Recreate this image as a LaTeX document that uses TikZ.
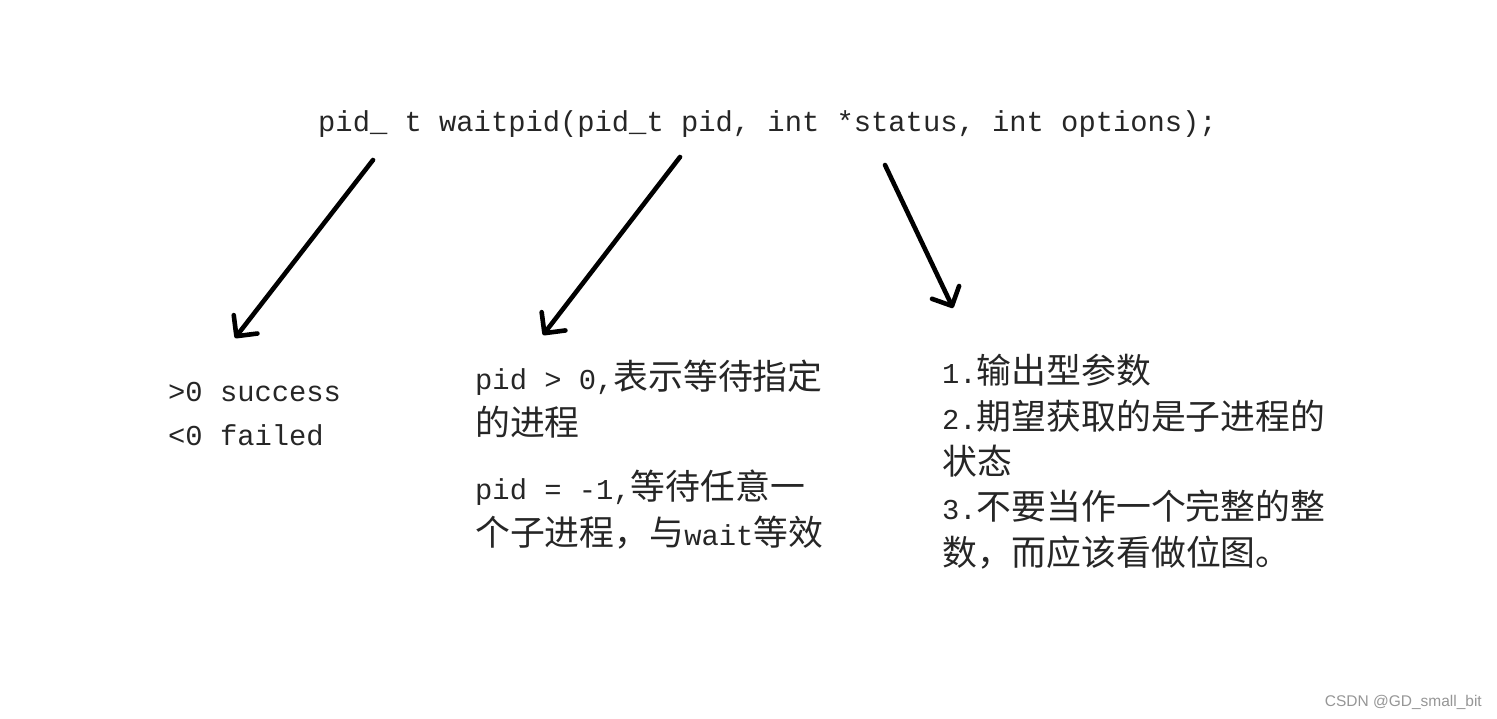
\documentclass[tikz,border=0pt]{standalone}
\usepackage{fontspec}
\usepackage{xcolor}
\usetikzlibrary{arrows.meta}
\setmonofont{Liberation Mono}
\newfontfamily\cjk[Scale=1.21]{Noto Sans CJK SC}
\newfontfamily\markfont{Liberation Sans}
\definecolor{inkblack}{RGB}{0,0,0}
\definecolor{codegrey}{RGB}{38,38,38}
\definecolor{markgrey}{RGB}{150,150,150}
\def\penStroke{4.6pt}

\begin{document}
\begin{tikzpicture}[x=1pt, y=-1pt,
  every node/.style={inner sep=0pt, text=codegrey,
    font=\ttfamily\fontsize{28.8}{45.3}\selectfont},
  note/.style={anchor=base west, align=left},
  pen/.style={draw=inkblack, line width=\penStroke, line cap=round,
    -{Straight Barb[round, length=15pt, width=30pt]}}]

% Canvas
\useasboundingbox[fill=white] (0,0) rectangle (1497,718);

% Prototype line
\node[anchor=base west] (proto) at (318,131)
  {pid\_ t waitpid(pid\_t pid, int *status, int options);};

% --- Return value (base = last line) ---
\node[note, font=\ttfamily\fontsize{28.8}{44}\selectfont] (retNote) at (168,445)
  {>0 success\\<0 failed};

% --- pid argument ---
\node[note] (pidPos) at (475,435)
  {pid > 0,{\cjk 表示等待指定}\\{\cjk 的进程}};
\node[note] (pidAny) at (475,545)
  {pid = -1,{\cjk 等待任意一}\\{\cjk 个子进程，与}wait{\cjk 等效}};

% --- status argument ---
\node[note] (statusNote) at (942,565)
  {1.{\cjk 输出型参数}\\
   2.{\cjk 期望获取的是子进程的}\\
   {\cjk 状态}\\
   3.{\cjk 不要当作一个完整的整}\\
   {\cjk 数，而应该看做位图。}};

% Watermark
\node[anchor=base east, text=markgrey, font=\markfont\fontsize{15.5}{18}\selectfont]
  (csdnMark) at (1482,706) {CSDN @GD\_small\_bit};

% Hand-drawn arrows
\coordinate (retFrom) at (373,160);
\coordinate (retTo) at (235,338);
\coordinate (pidFrom) at (680,157);
\coordinate (pidTo) at (543,335);
\coordinate (statFrom) at (885,165);
\coordinate (statTo) at (953,308);

\draw[pen] (retFrom) -- (retTo);
\draw[pen] (pidFrom) -- (pidTo);
\draw[pen] (statFrom) -- (statTo);

\end{tikzpicture}
\end{document}
